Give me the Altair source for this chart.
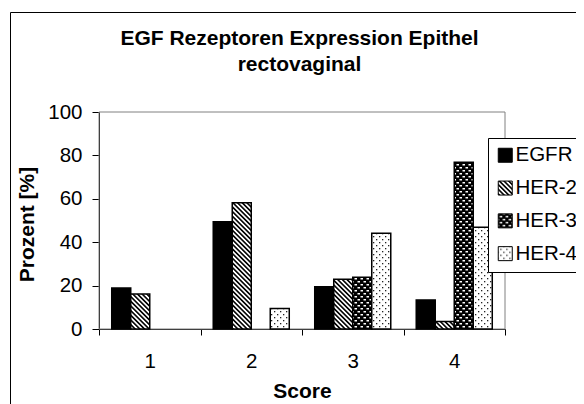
import altair as alt
import pandas as pd
import jinja2

# ---- data ----
scores = ["1", "2", "3", "4"]
series = ["EGFR", "HER-2", "HER-3", "HER-4"]
egfr = [18.9, 49.4, 19.5, 13.4]
her2 = [16.1, 58.2, 22.9, 3.4]
her3 = [0.0, 0.0, 23.8, 76.8]
her4 = [0.0, 9.5, 44.1, 46.9]
y_ticks = [0, 20, 40, 60, 80, 100]
title_lines = ["EGF Rezeptoren Expression Epithel", "rectovaginal"]
y_title = "Prozent [%]"
x_title = "Score"

rows = []
for s, vals in zip(series, [egfr, her2, her3, her4]):
    for sc, v in zip(scores, vals):
        rows.append({"Score": sc, "Serie": s, "Wert": v})
df = pd.DataFrame(rows)

FONT = "Liberation Sans, Arial, sans-serif"
W, H = 406, 217
fills = ["black", "url(#p-her2)", "url(#p-her3)", "url(#p-her4)"]

frame = alt.Chart(pd.DataFrame({"k": [0]})).mark_rect(
    fillOpacity=0, stroke="black", strokeWidth=1
).encode(x=alt.value(-88.5), x2=alt.value(W + 200), y=alt.value(-99.5), y2=alt.value(H + 200))

border = alt.Chart(pd.DataFrame({"k": [0]})).mark_rect(
    fillOpacity=0, stroke="#808080", strokeWidth=1
).encode(x=alt.value(0), x2=alt.value(W), y=alt.value(0), y2=alt.value(H))

bars = alt.Chart(df).transform_filter("datum.Wert > 0").mark_bar(
    stroke="black", strokeWidth=1.5
).encode(
    x=alt.X("Score:N", sort=scores,
            scale=alt.Scale(domain=scores, paddingInner=0, paddingOuter=0),
            axis=alt.Axis(title=x_title, labelAngle=0, tickBand="extent", tickSize=6,
                          labelBaseline="alphabetic", labelPadding=32,
                          titleY=68, titleBaseline="alphabetic")),
    xOffset=alt.XOffset("Serie:N", sort=series,
                        scale=alt.Scale(domain=series, paddingInner=0, paddingOuter=0.67)),
    y=alt.Y("Wert:Q", scale=alt.Scale(domain=[0, 100], nice=False),
            axis=alt.Axis(values=y_ticks, title=y_title, tickSize=7, labelPadding=10,
                          titleX=-66, titleY=112, titleBaseline="alphabetic",
                          titleAngle=270, titleAlign="center")),
    color=alt.Color("Serie:N", sort=series,
                    scale=alt.Scale(domain=series, range=fills),
                    legend=alt.Legend(title=None, orient="none", legendX=389, legendY=26,
                                      direction="vertical", fillColor="white",
                                      strokeColor="black", padding=7,
                                      symbolType="square", symbolSize=196,
                                      symbolStrokeColor="black", symbolStrokeWidth=1,
                                      symbolOpacity=1,
                                      labelFont=FONT, labelFontSize=20.5, labelColor="black",
                                      rowPadding=11.8, labelOffset=0)),
)

chart = alt.layer(frame, border, bars).properties(
    width=W, height=H,
    padding={"left": 91, "top": 104, "right": 90, "bottom": 75},
    autosize=alt.AutoSizeParams(type="none"),
    background="white",
    title=alt.Title(title_lines, font=FONT, fontSize=21, fontWeight="bold", color="black",
                    anchor="middle", frame="group", baseline="top", lineHeight=26,
                    offset=-62.5, dx=-2.5),
).configure_view(stroke=None).configure_axis(
    domainColor="black", domainWidth=1, tickColor="black", tickWidth=1,
    labelColor="black", labelFont=FONT, labelFontSize=20.5,
    titleColor="black", titleFont=FONT, titleFontSize=21, titleFontWeight="bold",
    grid=False, zindex=1,
)

TEMPLATE = jinja2.Template("""<!DOCTYPE html>
<html>
<head>
<style>
  html, body { overflow: hidden; }
  #{{ output_div }}.vega-embed { display: block; overflow: visible; }
  #{{ output_div }} svg { flex-shrink: 0; overflow: visible; }
</style>
<script type="text/javascript" src="{{ base_url }}/vega@{{ vega_version }}"></script>
<script type="text/javascript" src="{{ base_url }}/vega-lite@{{ vegalite_version }}"></script>
<script type="text/javascript" src="{{ base_url }}/vega-embed@{{ vegaembed_version }}"></script>
</head>
<body>
<svg width="0" height="0" style="position:absolute">
  <defs>
    <pattern id="p-her2" patternUnits="userSpaceOnUse" width="3.3" height="3.3" patternTransform="rotate(-45)">
      <rect width="3.3" height="3.3" fill="white"/>
      <rect width="1.6" height="3.3" fill="black"/>
    </pattern>
    <pattern id="p-her3" patternUnits="userSpaceOnUse" width="6" height="6">
      <rect width="6" height="6" fill="black"/>
      <rect x="0.5" y="1" width="2.5" height="1.5" fill="white"/>
      <rect x="3.5" y="4" width="2.5" height="1.5" fill="white"/>
    </pattern>
    <pattern id="p-her4" patternUnits="userSpaceOnUse" width="6" height="6">
      <rect width="6" height="6" fill="white"/>
      <rect x="1" y="1" width="1.3" height="1.3" fill="#222"/>
      <rect x="4" y="4" width="1.3" height="1.3" fill="#222"/>
    </pattern>
  </defs>
</svg>
<div id="{{ output_div }}"></div>
<script type="text/javascript">
  (function(vegaEmbed) {
    var spec = {{ spec }};
    var embedOpt = {{ embed_options }};
    function showError(el, error){
      el.innerHTML = ('<div style="color:red;"><p>JavaScript Error: ' + error.message + '</p></div>');
      throw error;
    }
    const el = document.getElementById('{{ output_div }}');
    vegaEmbed("#{{ output_div }}", spec, embedOpt).catch(error => showError(el, error));
  })(vegaEmbed);
</script>
</body>
</html>
""")

chart.save("out.html", embed_options={"renderer": "svg", "actions": False}, template=TEMPLATE)
